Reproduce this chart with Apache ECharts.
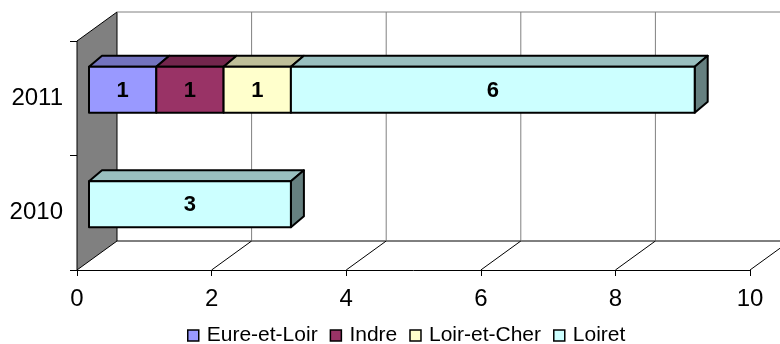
<!DOCTYPE html>
<html>
<head>
<meta charset="utf-8">
<script src="https://cdn.jsdelivr.net/npm/echarts@6/dist/echarts.min.js"></script>
<style>
html, body { margin: 0; background: #fff; }
#chart { width: 780px; height: 344px; }
</style>
</head>
<body>
<div id="chart"></div>
<script>
// données
const years = ['2010', '2011']
const seriesNames = ['Eure-et-Loir', 'Indre', 'Loir-et-Cher', 'Loiret']
const eureEtLoir = [0, 1]
const indre = [0, 1]
const loirEtCher = [0, 1]
const loiret = [3, 6]
const xTicks = [0, 2, 4, 6, 8, 10]

const values = [eureEtLoir, indre, loirEtCher, loiret]
const faceColors = ['#9999FF', '#993366', '#FFFFCC', '#CCFFFF']
const topColors = ['#7373BF', '#73264D', '#BFBF99', '#99BFBF']
const sideColors = ['#4D4D80', '#4D1A33', '#808066', '#668080']

// décalages 3D (pixels)
const WALL = [40, -29]
const BAR_FRONT = [12, -8.5]
const BAR_DEPTH = [13, -11]

// empilement
const totals = years.map((y, j) => values.reduce((s, v) => s + v[j], 0))
const stacked = values.map(() => [])
years.forEach((y, j) => {
  let acc = 0
  values.forEach((v, k) => {
    stacked[k].push([j, acc, acc + v[j], acc + v[j] === totals[j] ? 1 : 0])
    acc += v[j]
  })
})

function boxRenderer(k) {
  return function (params, api) {
    const j = api.value(0)
    const start = api.value(1)
    const end = api.value(2)
    if (end - start <= 0) return
    const a = api.coord([start, j])
    const b = api.coord([end, j])
    const h = api.size([0, 1])[1] * 0.4
    const x0 = a[0] + BAR_FRONT[0]
    const x1 = b[0] + BAR_FRONT[0]
    const y0 = a[1] + BAR_FRONT[1] - h / 2
    const y1 = y0 + h
    const dx = BAR_DEPTH[0], dy = BAR_DEPTH[1]
    const line = { stroke: '#000', lineWidth: 2, lineJoin: 'round' }
    const children = [
      {
        type: 'polygon',
        shape: { points: [[x0, y0], [x0 + dx, y0 + dy], [x1 + dx, y0 + dy], [x1, y0]] },
        style: Object.assign({ fill: topColors[k] }, line)
      }
    ]
    if (api.value(3) === 1) {
      children.push({
        type: 'polygon',
        shape: { points: [[x1, y0], [x1 + dx, y0 + dy], [x1 + dx, y1 + dy], [x1, y1]] },
        style: Object.assign({ fill: sideColors[k] }, line)
      })
    }
    children.push({
      type: 'rect',
      shape: { x: x0, y: y0, width: x1 - x0, height: h },
      style: Object.assign({ fill: faceColors[k] }, line)
    })
    children.push({
      type: 'text',
      style: {
        x: (x0 + x1) / 2, y: (y0 + y1) / 2 + 1,
        text: String(end - start),
        align: 'center', verticalAlign: 'middle',
        fontFamily: 'Arial', fontWeight: 'bold', fontSize: 22, fill: '#000'
      }
    })
    return { type: 'group', children }
  }
}

function frameRenderer(params, api) {
  const cs = params.coordSys
  const t = api.value(0)
  const x = api.coord([t, 0])[0]
  const bottom = cs.y + cs.height
  const top = cs.y
  const dx = WALL[0], dy = WALL[1]
  const children = []
  if (t === 0) {
    children.push({
      type: 'polygon',
      shape: { points: [[x, top], [x + dx, top + dy], [x + dx, bottom + dy], [x, bottom]] },
      style: { fill: '#808080', stroke: '#000', lineWidth: 1 }
    })
    children.push({
      type: 'line',
      shape: { x1: x + dx, y1: top + dy, x2: cs.x + cs.width + dx, y2: top + dy },
      style: { stroke: '#808080', lineWidth: 1 }
    })
    children.push({
      type: 'line',
      shape: { x1: x + dx, y1: bottom + dy, x2: cs.x + cs.width + dx, y2: bottom + dy },
      style: { stroke: '#000', lineWidth: 1 }
    })
  } else {
    children.push({
      type: 'line',
      shape: { x1: x + dx, y1: top + dy, x2: x + dx, y2: bottom + dy },
      style: { stroke: '#808080', lineWidth: 1 }
    })
    children.push({
      type: 'line',
      shape: { x1: x, y1: bottom, x2: x + dx, y2: bottom + dy },
      style: { stroke: '#000', lineWidth: 1 }
    })
  }
  return { type: 'group', children }
}

const series = [{
  name: 'cadre',
  type: 'custom',
  z: 1,
  silent: true,
  renderItem: frameRenderer,
  encode: { x: 0 },
  data: xTicks.map(t => [t])
}]
seriesNames.forEach((name, k) => {
  series.push({
    name,
    type: 'custom',
    z: 3,
    renderItem: boxRenderer(k),
    itemStyle: { color: faceColors[k] },
    encode: { x: [1, 2], y: 0 },
    data: stacked[k]
  })
})

const chart = echarts.init(document.getElementById('chart'))
chart.setOption({
  animation: false,
  textStyle: { fontFamily: 'Arial' },
  grid: { left: 77, right: 30, top: 41, bottom: 74 },
  xAxis: {
    type: 'value',
    min: 0,
    max: 10,
    interval: 2,
    axisLine: { show: true, lineStyle: { color: '#000' } },
    axisTick: { show: true, length: 6, lineStyle: { color: '#000' } },
    axisLabel: { fontSize: 24, color: '#000', margin: 17 },
    splitLine: { show: false }
  },
  yAxis: {
    type: 'category',
    data: years,
    axisLine: { show: true, lineStyle: { color: '#000' } },
    axisTick: { show: true, length: 7, lineStyle: { color: '#000' } },
    axisLabel: { fontSize: 24, color: '#000', margin: 14 }
  },
  legend: {
    data: seriesNames,
    left: 187,
    top: 325,
    padding: 0,
    icon: 'rect',
    itemWidth: 11,
    itemHeight: 11,
    itemGap: 12,
    itemStyle: { borderColor: '#000', borderWidth: 1.5 },
    textStyle: { fontSize: 21, color: '#000', padding: [0, 0, 0, 3] }
  },
  series
})
</script>
</body>
</html>
